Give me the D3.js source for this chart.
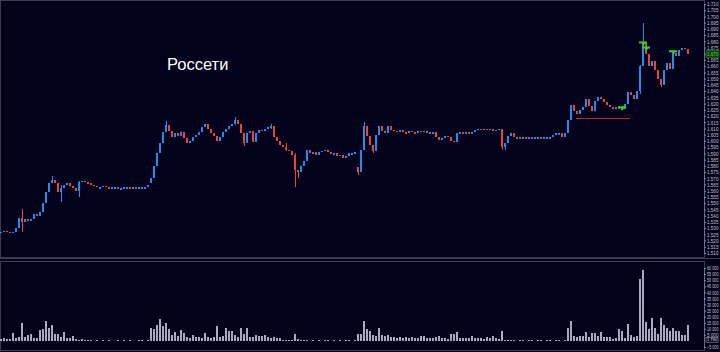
<!DOCTYPE html>
<html>
<head>
<meta charset="utf-8">
<script src="https://cdn.jsdelivr.net/npm/d3@7/dist/d3.min.js"></script>
<style>
  body { margin: 0; background: #01011c; }
  svg { display: block; }
</style>
</head>
<body>
<div id="chart"></div>
<script>
// closing prices, one per bar
const closes = [
  1.527,1.528,1.527,1.526,1.527,1.530,1.538,1.535,1.537,1.536,
  1.537,1.541,1.540,1.543,1.550,1.559,1.566,1.569,1.566,1.559,
  1.562,1.565,1.566,1.564,1.562,1.560,1.567,1.568,1.567,1.566,
  1.565,1.564,1.563,1.563,1.564,1.563,1.562,1.563,1.563,1.562,
  1.562,1.563,1.563,1.562,1.563,1.562,1.563,1.563,1.563,1.565,
  1.570,1.580,1.590,1.598,1.607,1.613,1.608,1.603,1.606,1.604,
  1.607,1.602,1.598,1.600,1.603,1.605,1.607,1.611,1.614,1.610,
  1.606,1.604,1.600,1.603,1.607,1.610,1.612,1.614,1.617,1.614,
  1.606,1.598,1.606,1.608,1.599,1.606,1.609,1.608,1.610,1.611,
  1.612,1.603,1.600,1.597,1.595,1.593,1.592,1.589,1.577,1.575,
  1.580,1.584,1.593,1.590,1.591,1.589,1.591,1.592,1.593,1.591,
  1.590,1.590,1.588,1.589,1.586,1.588,1.590,1.590,1.591,1.575,
  1.593,1.612,1.604,1.597,1.592,1.605,1.612,1.608,1.606,1.612,
  1.609,1.608,1.607,1.609,1.607,1.606,1.608,1.607,1.606,1.608,
  1.607,1.608,1.606,1.607,1.607,1.603,1.601,1.602,1.604,1.603,
  1.600,1.599,1.606,1.607,1.606,1.607,1.606,1.607,1.609,1.610,
  1.609,1.610,1.609,1.610,1.608,1.609,1.610,1.595,1.598,1.604,
  1.606,1.603,1.603,1.602,1.603,1.602,1.603,1.602,1.603,1.603,
  1.602,1.603,1.603,1.603,1.605,1.606,1.606,1.603,1.606,1.617,
  1.629,1.624,1.622,1.625,1.627,1.634,1.628,1.624,1.632,1.635,
  1.634,1.631,1.629,1.627,1.626,1.627,1.626,1.626,1.630,1.639,
  1.637,1.634,1.640,1.660,1.679,1.670,1.660,1.664,1.657,1.650,
  1.645,1.657,1.663,1.658,1.671,1.668,1.673,1.675,1.674,1.670
];
// opening prices that differ from the previous close (session gaps)
const openGaps = [[0, 1.527], [50, 1.566], [119, 1.579], [189, 1.606]];
// [bar, high, low] for the visible shadows
const wicks = [
  [7, 1.545, 1.527], [17, 1.572, 1.566], [20, 1.565, 1.551], [26, 1.568, 1.555],
  [55, 1.616, 1.607], [78, 1.619, 1.613], [81, 1.606, 1.596], [90, 1.614, 1.610],
  [95, 1.598, 1.592], [98, 1.590, 1.563], [99, 1.577, 1.570], [119, 1.579, 1.573],
  [121, 1.615, 1.593], [124, 1.597, 1.590], [167, 1.610, 1.593], [168, 1.598, 1.593],
  [213, 1.661, 1.638], [214, 1.695, 1.660], [220, 1.650, 1.643]
];
const volumes = [
  1500,2000,1200,1800,6700,2500,3000,14700,3500,5000,
  5900,2500,2000,9000,9500,16000,11000,13000,6000,6000,
  3000,7000,2500,2000,3700,1200,800,1500,600,400,
  700,300,500,200,400,300,600,200,300,500,
  200,400,300,600,300,200,500,400,300,800,
  10700,10000,13000,18400,12500,14700,10000,5000,7000,4000,
  9000,6500,3500,2800,4500,3000,3600,2500,6500,3000,
  2400,3500,12500,3000,4000,10700,8500,8000,4500,3000,
  11000,6000,10400,3500,3000,4500,3800,4200,4500,3000,
  2800,3500,2500,2000,1000,600,800,400,5300,1200,
  900,500,700,300,400,200,500,300,900,400,
  300,600,200,400,300,500,800,300,600,6000,
  5500,16000,10000,8500,5000,4000,10700,4500,4000,4800,
  3500,3200,2800,3500,2600,3200,2400,3000,2500,2200,
  4000,4000,2500,2000,2800,3000,4000,2500,2200,1800,
  6000,5800,7200,2400,2000,2800,2200,3800,2400,2000,
  2500,1800,3600,2200,3800,2000,1500,8500,700,500,
  400,800,300,600,400,300,500,700,300,400,
  600,300,400,500,300,700,400,300,500,10700,
  16000,4000,3000,4000,4000,7200,3000,6700,6700,4000,
  7700,3000,3200,3200,1500,2500,10000,8500,2000,13800,
  5000,3000,4000,51000,58500,15700,10000,18700,11000,6000,
  19000,13000,10400,8500,10700,8500,8500,5000,5000,13500
];
// trade markers [bar, price] and the level line
const marks = [[207, 1.627], [214, 1.679], [215, 1.675], [224, 1.672]];
const level = {from: 192, to: 210, price: 1.6185};
const title = "Россети";
const lastPrice = 1.670;
const lastVolume = 1790;

const W = 720, H = 352;
const axisX = 704;
const price = {top: 0, bottom: 257};
const vol = {top: 261, bottom: 350};
const labelFont = 5.4;

const bars = closes.map(function(c, i) {
  const gap = openGaps.find(g => g[0] === i);
  const o = gap ? gap[1] : closes[i - 1];
  const w = wicks.find(k => k[0] === i);
  return {
    i: i, o: o, c: c,
    h: w ? w[1] : Math.max(o, c),
    l: w ? w[2] : Math.min(o, c),
    v: volumes[i]
  };
});

const svg = d3.select('#chart').append('svg')
  .attr('width', W).attr('height', H)
  .style('font-family', '"Liberation Sans", Arial, sans-serif');

svg.append('rect').attr('width', W).attr('height', H).attr('fill', '#01011c');

var x = d3.scaleLinear().domain([0, 230]).range([0, 690]);
var y = d3.scaleLinear().domain([1.510, 1.710]).range([253, 4]);
var yv = d3.scaleLinear().domain([-5000, 60000]).range([347, 268]);

// panel frames
const frame = svg.append('g').attr('fill', 'none').attr('stroke', '#3d3d52')
  .attr('shape-rendering', 'crispEdges');
frame.append('rect').attr('x', 0.5).attr('y', 0.5).attr('width', axisX).attr('height', price.bottom - 0.5);
frame.append('line').attr('x1', 0).attr('x2', W).attr('y1', 258.5).attr('y2', 258.5);
frame.append('rect').attr('x', 0.5).attr('y', vol.top + 0.5).attr('width', axisX).attr('height', vol.bottom - vol.top);

// title
svg.append('text')
  .attr('x', 167).attr('y', 70)
  .attr('fill', '#ffffff')
  .attr('font-size', 16.5)
  .text(title);

// level line
svg.append('line')
  .attr('x1', x(level.from)).attr('x2', x(level.to))
  .attr('y1', Math.round(y(level.price)) + 0.5).attr('y2', Math.round(y(level.price)) + 0.5)
  .attr('stroke', '#c42020').attr('stroke-width', 1);

// candles
const up = '#1e8fe6', down = '#ec4141';
const candles = svg.append('g').attr('shape-rendering', 'crispEdges');
candles.selectAll('.wick')
  .data(bars)
  .enter().append('rect')
  .attr('class', 'wick')
  .attr('x', d => x(d.i) + 1)
  .attr('width', 1)
  .attr('y', d => y(d.h))
  .attr('height', d => Math.max(1, y(d.l) - y(d.h)))
  .attr('fill', d => d.c >= d.o ? up : down);
candles.selectAll('.body')
  .data(bars)
  .enter().append('rect')
  .attr('class', 'body')
  .attr('x', d => x(d.i))
  .attr('width', 2)
  .attr('y', d => y(Math.max(d.o, d.c)))
  .attr('height', d => Math.max(1.5, Math.abs(y(d.o) - y(d.c))))
  .attr('fill', d => d.c >= d.o ? up : down);

// markers
svg.selectAll('.mark')
  .data(marks)
  .enter().append('path')
  .attr('class', 'mark')
  .attr('d', function(d) {
    var cx = x(d[0]) + 1, cy = y(d[1]);
    return 'M' + (cx - 4) + ',' + (cy - 1) + 'h8v2h-8z M' + (cx - 1) + ',' + (cy + 1) + 'l1.5,2.5l1.5,-2.5z';
  })
  .attr('fill', '#2bd82b');

// volume bars
svg.append('g').attr('shape-rendering', 'crispEdges')
  .selectAll('.bar')
  .data(bars)
  .enter().append('rect')
  .attr('class', 'bar')
  .attr('x', d => x(d.i))
  .attr('width', 2)
  .attr('y', d => yv(d.v))
  .attr('height', d => yv(0) - yv(d.v))
  .attr('fill', '#a9a9c4');

// axes: long labels squeezed horizontally into the narrow gutter
function fitText(sel, maxW) {
  sel.each(function() {
    var w = this.getComputedTextLength();
    if (w > maxW) {
      var t = d3.select(this), x0 = +t.attr('x') || 0;
      t.attr('x', 0).attr('transform', 'translate(' + x0 + ',0) scale(' + (maxW / w) + ',1)');
    }
  });
}
function styleAxis(g) {
  g.select('.domain').attr('stroke', '#6a6a7e');
  g.selectAll('.tick line').attr('stroke', '#8a8a9a');
  g.selectAll('.tick text').attr('fill', '#c4c4cc').attr('font-size', labelFont)
    .attr('font-family', '"Liberation Sans", Arial, sans-serif')
    .call(fitText, 11.5);
}
svg.append('g')
  .attr('transform', 'translate(' + axisX + ',0)')
  .call(d3.axisRight(y).tickValues(d3.range(1510, 1711, 5).map(v => v / 1000))
    .tickSize(2).tickPadding(1).tickFormat(d3.format('.3f')))
  .call(styleAxis);
svg.append('g')
  .attr('transform', 'translate(' + axisX + ',0)')
  .call(d3.axisRight(yv).tickValues(d3.range(-5000, 60001, 5000).filter(v => v !== 0))
    .tickSize(2).tickPadding(1).tickFormat(d => d3.format(',')(d).replace(',', ' ')))
  .call(styleAxis);

// last value badges
const pb = svg.append('g').attr('transform', 'translate(' + (axisX + 2) + ',' + y(lastPrice) + ')');
pb.append('rect').attr('x', 0).attr('y', -3.5).attr('width', 13).attr('height', 7)
  .attr('fill', '#0c3a12').attr('stroke', '#2f8a2f').attr('stroke-width', 0.6);
pb.append('text').attr('x', 1).attr('y', 2).attr('font-size', labelFont).attr('fill', '#4fe04f')
  .text(d3.format('.3f')(lastPrice)).call(fitText, 11);
const vb = svg.append('g').attr('transform', 'translate(' + (axisX + 2) + ',' + (yv(lastVolume) + 1) + ')');
vb.append('rect').attr('x', 0).attr('y', -2.4).attr('width', 12).attr('height', 4.8)
  .attr('fill', '#01011c').attr('stroke', '#c4c4cc').attr('stroke-width', 0.5);
vb.append('text').attr('x', 1).attr('y', 1.6).attr('font-size', 4.4).attr('fill', '#e0e0e8')
  .text(d3.format(',')(lastVolume).replace(',', ' ')).call(fitText, 10);
</script>
</body>
</html>
